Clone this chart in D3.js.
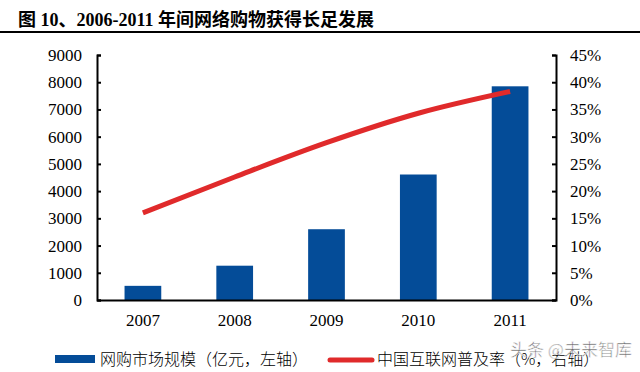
<!DOCTYPE html>
<html>
<head>
<meta charset="utf-8">
<script src="https://cdn.jsdelivr.net/npm/d3@7"></script>
<style>
  body { margin: 0; background: #fff; }
  svg { display: block; }
  .axis text { font-family: "Liberation Serif", "Times New Roman", serif; font-size: 17px; fill: #000; }
  .axis path, .axis line { stroke: #000; stroke-width: 2px; }
</style>
</head>
<body>
<div id="chart"></div>
<script>
var width = 640;
var height = 372;

// 数据
var years = ["2007", "2008", "2009", "2010", "2011"];
var marketSize = [520, 1260, 2600, 4610, 7850];      // 亿元，左轴
var penetration = [0.160, 0.226, 0.289, 0.343, 0.383]; // 右轴
var leftTicks = [0, 1000, 2000, 3000, 4000, 5000, 6000, 7000, 8000, 9000];
var rightTicks = [0, 0.05, 0.10, 0.15, 0.20, 0.25, 0.30, 0.35, 0.40, 0.45];

var svg = d3.select("#chart").append("svg")
    .attr("width", width)
    .attr("height", height);

// 标题
svg.append("text")
    .attr("x", 18)
    .attr("y", 26)
    .style("font-family", "\"Liberation Serif\", \"Noto Sans CJK SC\", serif")
    .style("font-weight", "bold")
    .style("font-size", "18px")
    .text("图 10、2006-2011 年间网络购物获得长足发展");
svg.append("line")
    .attr("x1", 0).attr("x2", width)
    .attr("y1", 32).attr("y2", 32)
    .attr("stroke", "#000")
    .attr("stroke-width", 2);

var plot = { left: 97, right: 556, top: 55, bottom: 300 };

var xScale = d3.scaleBand()
    .domain(years)
    .range([plot.left, plot.right])
    .paddingInner(0.6)
    .paddingOuter(0.3);
var yLeft = d3.scaleLinear().domain([0, 9000]).range([plot.bottom, plot.top]);
var yRight = d3.scaleLinear().domain([0, 0.45]).range([plot.bottom, plot.top]);

// 柱子
svg.append("g").selectAll("rect")
    .data(marketSize)
    .enter()
    .append("rect")
    .attr("x", function (d, i) { return xScale(years[i]); })
    .attr("y", function (d) { return yLeft(d); })
    .attr("width", xScale.bandwidth())
    .attr("height", function (d) { return yLeft(0) - yLeft(d); })
    .attr("fill", "#044c98");

// 轴
svg.append("g")
    .classed("axis", true)
    .attr("transform", "translate(" + plot.left + ",0)")
    .call(d3.axisLeft(yLeft).tickValues(leftTicks).tickFormat(d3.format("d"))
        .tickSizeInner(-4).tickSizeOuter(-4).tickPadding(15));

svg.append("g")
    .classed("axis", true)
    .attr("transform", "translate(" + plot.right + ",0)")
    .call(d3.axisRight(yRight).tickValues(rightTicks).tickFormat(d3.format(".0%"))
        .tickSizeInner(-4).tickSizeOuter(-4).tickPadding(14));

svg.append("g")
    .classed("axis", true)
    .attr("transform", "translate(0," + plot.bottom + ")")
    .call(d3.axisBottom(xScale).tickSize(0).tickSizeOuter(0).tickPadding(14));

// 折线
var line = d3.line()
    .x(function (d, i) { return xScale(years[i]) + xScale.bandwidth() / 2; })
    .y(function (d) { return yRight(d); })
    .curve(d3.curveMonotoneX);

svg.append("path")
    .datum(penetration)
    .attr("d", line)
    .attr("fill", "none")
    .attr("stroke", "#e02a2b")
    .attr("stroke-width", 5);

// 图例
var legendFont = "\"Noto Sans CJK SC\", sans-serif";
svg.append("rect")
    .attr("x", 55).attr("y", 355)
    .attr("width", 40).attr("height", 8)
    .attr("fill", "#044c98");
svg.append("text")
    .attr("x", 100).attr("y", 365)
    .style("font-family", legendFont)
    .style("font-size", "16px")
    .style("font-weight", 300)
    .text("网购市场规模（亿元，左轴）");
svg.append("line")
    .attr("x1", 330).attr("x2", 372)
    .attr("y1", 360).attr("y2", 360)
    .attr("stroke", "#e02a2b")
    .attr("stroke-width", 5)
    .attr("stroke-linecap", "round");
svg.append("text")
    .attr("x", 377).attr("y", 365)
    .style("font-family", legendFont)
    .style("font-size", "16px")
    .style("font-weight", 300)
    .text("中国互联网普及率（%，右轴）");

// 水印
svg.append("text")
    .attr("x", 510).attr("y", 356)
    .style("font-family", legendFont)
    .style("font-size", "17px")
    .attr("fill", "#444")
    .attr("stroke", "#fff")
    .attr("stroke-width", 0.6)
    .attr("opacity", 0.8)
    .text("头条 @未来智库");
</script>
</body>
</html>
